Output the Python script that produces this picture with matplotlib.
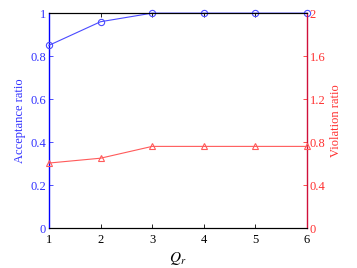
import matplotlib
matplotlib.use("Agg")
import matplotlib.pyplot as plt

plt.rcParams['font.family'] = ['Liberation Serif', 'DejaVu Serif']
plt.rcParams['mathtext.fontset'] = 'stix'

qr = [1, 2, 3, 4, 5, 6]
acceptance = [0.85, 0.96, 1.0, 1.0, 1.0, 1.0]
violation = [0.605, 0.65, 0.76, 0.76, 0.76, 0.76]
left_ticks = [0, 0.2, 0.4, 0.6, 0.8, 1]
left_labels = ['0', '0.2', '0.4', '0.6', '0.8', '1']
right_ticks = [0, 0.4, 0.8, 1.2, 1.6, 2]
right_labels = ['0', '0.4', '0.8', '1.2', '1.6', '2']

fig = plt.figure(figsize=(3.57, 2.68), dpi=100)
ax = fig.add_axes([0.137, 0.149, 0.723, 0.802])
ax2 = ax.twinx()

blue = '#4a4aff'
red = '#ff5a5a'
ax.plot(qr, acceptance, color=blue, lw=0.8, marker='o', ms=4.5, mfc='none', mec=blue, mew=0.8, clip_on=False, zorder=5)
ax2.plot(qr, violation, color=red, lw=0.8, marker='^', ms=4.5, mfc='none', mec=red, mew=0.8, clip_on=False, zorder=5)

ax.set_xlim(1, 6)
ax.set_ylim(0, 1)
ax2.set_ylim(0, 2)
ax.set_xticks(qr)
ax.set_yticks(left_ticks)
ax.set_yticklabels(left_labels)
ax2.set_yticks(right_ticks)
ax2.set_yticklabels(right_labels)

ax.tick_params(axis='x', direction='in', top=True, length=3, width=0.6, labelsize=9, colors='black', pad=4)
ax.tick_params(axis='y', direction='in', length=3, width=0.6, labelsize=9, colors='#3030ff', pad=2)
ax2.tick_params(axis='y', direction='in', length=3, width=0.6, labelsize=9, colors='#ff3030', pad=2)

for a in (ax, ax2):
    a.spines['top'].set_color('black')
    a.spines['bottom'].set_color('black')
    a.spines['top'].set_linewidth(0.8)
    a.spines['bottom'].set_linewidth(0.8)
ax.spines['left'].set_color('#0000ff')
ax.spines['left'].set_linewidth(1.0)
ax2.spines['left'].set_visible(False)
ax.spines['right'].set_visible(False)
ax2.spines['right'].set_color('#d0103a')
ax2.spines['right'].set_linewidth(1.0)

ax.set_ylabel('Acceptance ratio', color='#3030ff', fontsize=9, labelpad=3)
ax2.set_ylabel('Violation ratio', color='#ff3030', fontsize=9, labelpad=3)
ax.set_xlabel(r'$Q_r$', fontsize=11, labelpad=3)

fig.savefig('out.png', dpi=100)
